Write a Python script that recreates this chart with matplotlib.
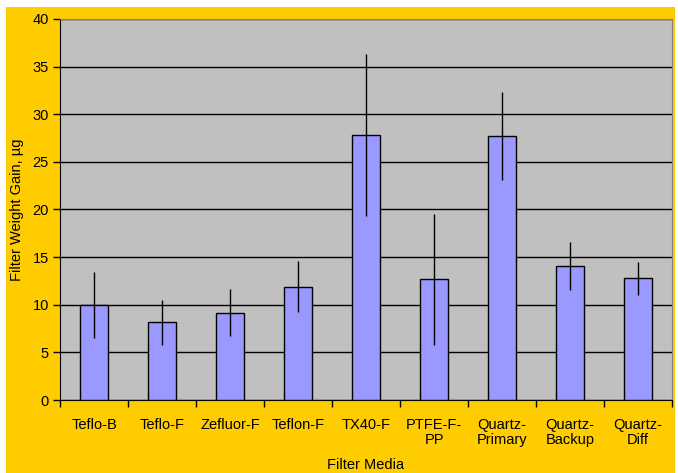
import numpy as np
import matplotlib
matplotlib.use("Agg")
from matplotlib import pyplot as plt
from matplotlib.patches import Rectangle

media = ["Teflo-B", "Teflo-F", "Zefluor-F", "Teflon-F", "TX40-F",
         "PTFE-F-\nPP", "Quartz-\nPrimary", "Quartz-\nBackup", "Quartz-\nDiff"]
gain = [10.0, 8.15, 9.17, 11.9, 27.85, 12.67, 27.7, 14.1, 12.77]
err = [3.45, 2.4, 2.5, 2.7, 8.5, 6.9, 4.6, 2.5, 1.7]

plt.rcParams["font.family"] = ["Liberation Sans", "DejaVu Sans"]
plt.rcParams["font.size"] = 10.5

fig = plt.figure(figsize=(6.78, 4.73), dpi=100, facecolor="white")
# yellow chart area (white strip at top/left like the original)
fig.patches.append(Rectangle((6/678, 0), 669/678, 466/473, transform=fig.transFigure,
                             facecolor="#FFCC00", edgecolor="none", zorder=-5))

ax = fig.add_axes([60/678, 73/473, 612/678, 381/473])
ax.set_facecolor("#C0C0C0")

x = np.arange(len(media))
ax.bar(x, gain, width=0.4, color="#9999FF", edgecolor="black", linewidth=1, zorder=3)
ax.errorbar(x, gain, yerr=err, fmt="none", ecolor="black", elinewidth=1, capsize=0, zorder=4)

ax.set_xlim(-0.5, len(media) - 0.5)
ax.set_ylim(0, 40)
ax.set_yticks(np.arange(0, 41, 5))
ax.yaxis.grid(True, color="black", linewidth=1, zorder=1)
ax.set_axisbelow(True)

ax.set_xticks(np.arange(-0.5, len(media), 1))
ax.set_xticklabels([])
ax.set_xticks(x, minor=True)
ax.set_xticklabels(media, minor=True, linespacing=1.05)
ax.tick_params(axis="x", which="minor", length=0, pad=13)
ax.tick_params(axis="x", which="major", length=5, direction="out", width=1)
ax.tick_params(axis="y", length=5, direction="out", width=1, pad=3)

for s in ["top", "right"]:
    ax.spines[s].set_color("#808080")
for s in ["left", "bottom"]:
    ax.spines[s].set_color("black")

ax.set_ylabel("Filter Weight Gain, µg", labelpad=6)
ax.set_xlabel("Filter Media", labelpad=8)

fig.savefig("out.png", dpi=100, facecolor=fig.get_facecolor())
